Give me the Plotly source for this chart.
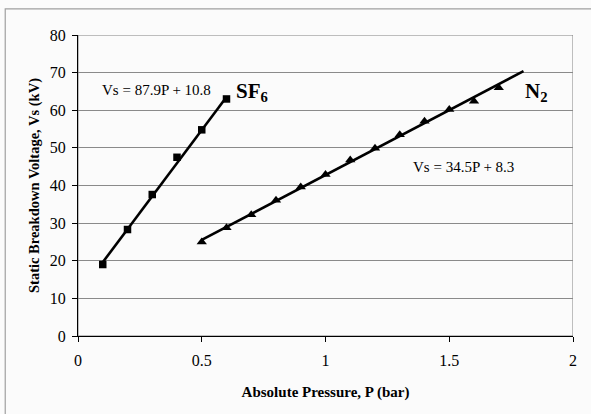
import plotly.graph_objects as go

# Measured breakdown voltages
sf6_pressure = [0.1, 0.2, 0.3, 0.4, 0.5, 0.6]
sf6_voltage = [19.0, 28.3, 37.6, 47.5, 54.8, 63.0]

n2_pressure = [0.5, 0.6, 0.7, 0.8, 0.9, 1.0, 1.1, 1.2, 1.3, 1.4, 1.5, 1.6, 1.7]
n2_voltage = [25.0, 28.8, 32.2, 36.1, 39.6, 42.9, 46.8, 49.9, 53.5, 57.1, 60.2, 62.4, 66.0]

# Linear fits: Vs = slope * P + intercept, drawn over the span [start, end]
sf6_fit = {"slope": 87.9, "intercept": 10.8, "span": [0.1, 0.6]}
n2_fit = {"slope": 34.5, "intercept": 8.3, "span": [0.5, 1.8]}

x_ticks = [0, 0.5, 1, 1.5, 2]
x_tick_text = ["0", "0.5", "1", "1.5", "2"]
y_ticks = [0, 10, 20, 30, 40, 50, 60, 70, 80]

SERIF = "Liberation Serif, Times New Roman, serif"


def fit_line(fit):
    xs = fit["span"]
    ys = [fit["slope"] * p + fit["intercept"] for p in xs]
    return xs, ys


fig = go.Figure()

for fit in (sf6_fit, n2_fit):
    fx, fy = fit_line(fit)
    fig.add_trace(go.Scatter(x=fx, y=fy, mode="lines",
                             line=dict(color="black", width=2.6),
                             hoverinfo="skip", showlegend=False))

fig.add_trace(go.Scatter(x=sf6_pressure, y=sf6_voltage, mode="markers", name="SF6",
                         marker=dict(symbol="square", size=7.5, color="black"),
                         showlegend=False))
fig.add_trace(go.Scatter(x=n2_pressure, y=n2_voltage, mode="markers", name="N2",
                         marker=dict(symbol="triangle-up", size=9, color="black"),
                         showlegend=False))

annotations = [
    dict(x=0.317, y=65.3, text="Vs = 87.9P + 10.8", font=dict(size=15)),
    dict(x=0.632, y=64.9, text="<b>SF<sub>6</sub></b>", font=dict(size=21), xanchor="left"),
    dict(x=1.798, y=64.9, text="<b>N<sub>2</sub></b>", font=dict(size=21), xanchor="left"),
    dict(x=1.556, y=44.8, text="Vs = 34.5P + 8.3", font=dict(size=15)),
]
for a in annotations:
    a.setdefault("xanchor", "center")
    a["font"] = dict(family=SERIF, color="black", **a["font"])
    fig.add_annotation(showarrow=False, xref="x", yref="y", **a)

# Plot-area frame (grey) and outer chart frame
fig.add_shape(type="rect", xref="x", yref="y", x0=0, x1=2, y0=0, y1=80,
              line=dict(color="#808080", width=1), layer="below")
fig.add_shape(type="rect", xref="paper", yref="paper",
              x0=-0.147, x1=1.2, y0=-0.4, y1=1.087,
              line=dict(color="#a0a0a0", width=1.2), layer="below")

fig.update_xaxes(range=[0, 2], tickvals=x_ticks, ticktext=x_tick_text,
                 showgrid=False, zeroline=False, showline=True, linecolor="black",
                 linewidth=1, ticks="outside", ticklen=5, tickcolor="black",
                 ticklabelstandoff=5,
                 tickfont=dict(family=SERIF, size=16, color="black"),
                 title=dict(text="<b>Absolute Pressure, P (bar)</b>",
                            font=dict(family=SERIF, size=15, color="black"), standoff=18))
fig.update_yaxes(range=[0, 80], tickvals=y_ticks, showgrid=True, gridcolor="#8a8a8a",
                 gridwidth=1, zeroline=False, showline=True, linecolor="black",
                 linewidth=1, ticks="outside", ticklen=5, tickcolor="black",
                 ticklabelstandoff=3,
                 tickfont=dict(family=SERIF, size=16, color="black"),
                 title=dict(text="<b>Static Breakdown Voltage, Vs (kV)</b>",
                            font=dict(family=SERIF, size=14.5, color="black"), standoff=6))

fig.update_layout(width=591, height=414, margin=dict(l=78, r=18, t=35, b=78),
                  paper_bgcolor="#fbfbfb", plot_bgcolor="#fbfbfb")

fig.write_html("out.html")
